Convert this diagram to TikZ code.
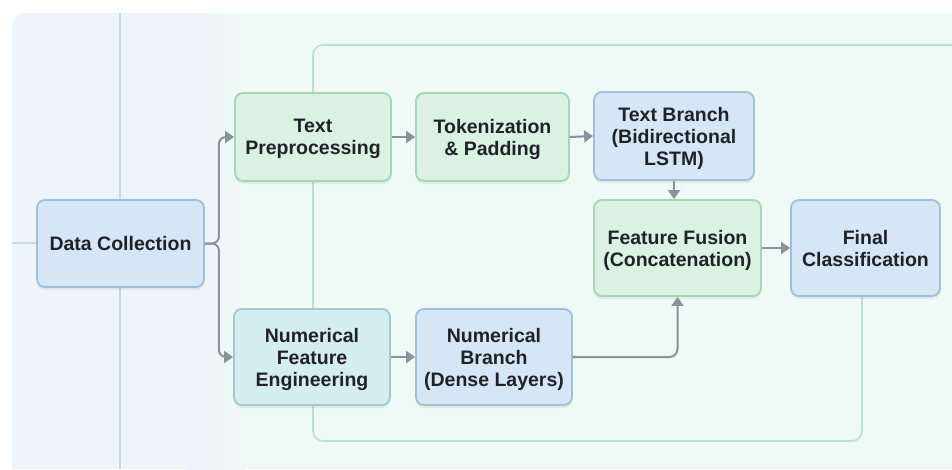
\documentclass[tikz,border=0pt]{standalone}
\usepackage{fontspec}
\setmainfont{Liberation Sans}
\usetikzlibrary{arrows.meta,calc,shadows}

\definecolor{panelblue}{HTML}{EDF4FB}
\definecolor{panelgreen}{HTML}{EFF9F5}
\definecolor{guide}{HTML}{CCD9E4}
\definecolor{frameline}{HTML}{BFE0CF}
\definecolor{greenfill}{HTML}{DAF1E3}
\definecolor{greenline}{HTML}{A6D5B8}
\definecolor{bluefill}{HTML}{D6E6F4}
\definecolor{blueline}{HTML}{A2BFDA}
\definecolor{tealfill}{HTML}{D4EEF0}
\definecolor{tealline}{HTML}{9FCAD0}
\definecolor{inktext}{HTML}{1F2328}
\definecolor{arrowgray}{HTML}{8B9299}

\tikzset{
  stage/.style={rounded corners=8pt, line width=1.8pt, align=center,
    text=inktext, font=\fontsize{19.5}{22}\selectfont\bfseries,
    inner sep=0pt, text depth=0pt,
    drop shadow={shadow xshift=0pt, shadow yshift=-3pt, opacity=0.06, fill=black}},
  greenbox/.style={stage, fill=greenfill, draw=greenline},
  bluebox/.style={stage, fill=bluefill, draw=blueline},
  tealbox/.style={stage, fill=tealfill, draw=tealline},
  flow/.style={draw=arrowgray, line width=2pt,
    -{Triangle[length=9pt,width=12pt]}},
}

\begin{document}
\begin{tikzpicture}[x=1pt,y=-1pt]
\useasboundingbox (0,0) rectangle (952,469);
\fill[white] (0,0) rectangle (952,469);

% background panel: bluish on the left, fading into a pale green
\begin{scope}
  \clip (0,0) rectangle (952,469);
  \path[clip, rounded corners=14pt] (12,13) rectangle (980,495);
  \fill[panelgreen] (0,0) rectangle (952,469);
  \fill[panelblue] (0,0) rectangle (185,469);
  \shade[left color=panelblue, right color=panelgreen] (185,0) rectangle (245,469);
  % faint guide lines
  \draw[guide, line width=1.2pt] (120,13) -- (120,469);
  \draw[guide, line width=1.2pt] (12,243) -- (37,243);
  % inner frame around the processing stages
  \draw[frameline, line width=1.6pt, rounded corners=10pt]
    (970,45) -- (313,45) -- (313,441) -- (862,441) -- (862,290);
\end{scope}

% stages
\node[bluebox, minimum width=167pt, minimum height=87pt] (dc) at (120.5,243.5) {Data Collection};
\node[greenbox, minimum width=156pt, minimum height=88pt] (tp) at (313,137) {Text\\Preprocessing};
\node[greenbox, minimum width=153pt, minimum height=88pt] (tk) at (492.5,137) {Tokenization\\\& Padding};
\node[bluebox, minimum width=160pt, minimum height=88pt] (tb) at (674,136) {Text Branch\\(Bidirectional\\LSTM)};
\node[greenbox, minimum width=167pt, minimum height=96pt] (ff) at (677.5,248) {Feature Fusion\\(Concatenation)};
\node[bluebox, minimum width=149pt, minimum height=96pt] (fc) at (865.5,248) {Final\\Classification};
\node[tealbox, minimum width=156pt, minimum height=96pt] (nf) at (312,357) {Numerical\\Feature\\Engineering};
\node[bluebox, minimum width=156pt, minimum height=96pt] (nb) at (494,357) {Numerical\\Branch\\(Dense Layers)};

% connectors
\draw[flow, rounded corners=7pt] (dc.east) -- ++(14,0) |- (tp.west);
\draw[flow, rounded corners=7pt] (dc.east) -- ++(14,0) |- (nf.west);
\draw[flow] (tp.east) -- (tk.west);
\draw[flow] (tk.east) -- (tb.west);
\draw[flow] (tb.south) -- (tb.south |- ff.north);
\draw[flow] (ff.east) -- (ff.east -| fc.west);
\draw[flow] (nf.east) -- (nb.west);
\draw[flow, rounded corners=8pt] (nb.east) -| (ff.south);
\end{tikzpicture}
\end{document}
